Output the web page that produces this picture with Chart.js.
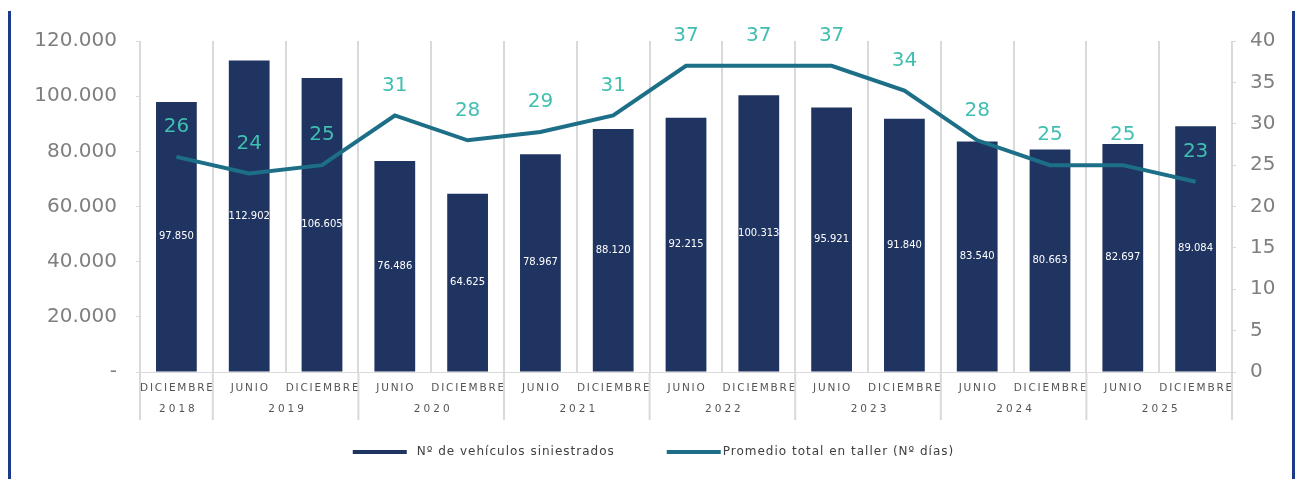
<!DOCTYPE html>
<html>
<head>
<meta charset="utf-8">
<script src="https://cdn.jsdelivr.net/npm/chart.js@4/dist/chart.umd.min.js"></script>
<style>
  html, body { margin: 0; padding: 0; background: #fff; }
  #wrap { position: relative; width: 1297px; height: 479px; }
  #frame {
    position: absolute; left: 8px; top: 11px; width: 1281px; height: 468px;
    border-left: 3px solid #1c3a8c; border-right: 3px solid #1c3a8c;
    pointer-events: none;
  }
</style>
</head>
<body>
<div id="wrap">
  <canvas id="chart" width="1297" height="479"></canvas>
  <div id="frame"></div>
</div>
<script>
// periods (month + year) shown on the x axis
const periodMonth = ["DICIEMBRE", "JUNIO", "DICIEMBRE", "JUNIO", "DICIEMBRE", "JUNIO", "DICIEMBRE",
  "JUNIO", "DICIEMBRE", "JUNIO", "DICIEMBRE", "JUNIO", "DICIEMBRE", "JUNIO", "DICIEMBRE"];
const periodYear = ["2018", "2019", "2019", "2020", "2020", "2021", "2021",
  "2022", "2022", "2023", "2023", "2024", "2024", "2025", "2025"];

// Nº de vehículos siniestrados
const vehiculos = [97850, 112902, 106605, 76486, 64625, 78967, 88120,
  92215, 100313, 95921, 91840, 83540, 80663, 82697, 89084];
// Promedio total en taller (Nº días)
const diasTaller = [26, 24, 25, 31, 28, 29, 31, 37, 37, 37, 34, 28, 25, 25, 23];

const FONT = "DejaVu Sans";
const BAR_COLOR = "#1f3461";
const LINE_COLOR = "#1d6f88";
const LABEL_TEAL = "#40bfb0";
const GRID = "#d9d9d9";

function formatMiles(v) {
  if (v === 0) return "-";
  return String(v).replace(/\B(?=(\d{3})+(?!\d))/g, ".");
}

// value labels: white inside the bars, teal above the line points
const valueLabels = {
  id: "valueLabels",
  afterDatasetsDraw(chart) {
    const ctx = chart.ctx;
    ctx.save();
    ctx.textAlign = "center";
    ctx.textBaseline = "middle";

    const barMeta = chart.getDatasetMeta(0);
    ctx.font = "10px '" + FONT + "'";
    ctx.fillStyle = "#ffffff";
    barMeta.data.forEach((bar, i) => {
      const mid = (bar.y + bar.base) / 2;
      ctx.fillText(formatMiles(vehiculos[i]), bar.x, mid);
    });

    const lineMeta = chart.getDatasetMeta(1);
    ctx.font = "20px '" + FONT + "'";
    ctx.fillStyle = LABEL_TEAL;
    lineMeta.data.forEach((pt, i) => {
      ctx.fillText(String(diasTaller[i]), pt.x, pt.y - 30);
    });
    ctx.restore();
  }
};

// two-level category axis (month / year) with year separators
const periodAxis = {
  id: "periodAxis",
  afterDraw(chart) {
    const ctx = chart.ctx;
    const xs = chart.scales.x;
    const area = chart.chartArea;
    const step = xs.getPixelForValue(1) - xs.getPixelForValue(0);
    ctx.save();
    ctx.fillStyle = "#555555";
    ctx.textAlign = "center";
    ctx.textBaseline = "middle";

    ctx.font = "10.5px '" + FONT + "'";
    ctx.letterSpacing = "1.8px";
    periodMonth.forEach((m, i) => {
      ctx.fillText(m, xs.getPixelForValue(i) + 1, area.bottom + 16);
    });

    ctx.letterSpacing = "3px";
    ctx.strokeStyle = GRID;
    ctx.lineWidth = 2;
    let start = 0;
    for (let i = 1; i <= periodYear.length; i++) {
      if (i === periodYear.length || periodYear[i] !== periodYear[start]) {
        const left = xs.getPixelForValue(start) - step / 2;
        const right = xs.getPixelForValue(i - 1) + step / 2;
        ctx.fillText(periodYear[start], (left + right) / 2 + 2, area.bottom + 37);
        ctx.beginPath();
        ctx.moveTo(left, area.bottom);
        ctx.lineTo(left, area.bottom + 48);
        if (i === periodYear.length) {
          ctx.moveTo(right, area.bottom);
          ctx.lineTo(right, area.bottom + 48);
        }
        ctx.stroke();
        start = i;
      }
    }
    ctx.restore();
  }
};

// legend drawn below the axis (Excel style: wide thin swatches)
const bottomLegend = {
  id: "bottomLegend",
  afterDraw(chart) {
    const ctx = chart.ctx;
    const items = chart.data.datasets.map((ds, i) => ({
      text: ds.label,
      color: i === 0 ? BAR_COLOR : LINE_COLOR,
      gap: i === 0 ? 10 : 2,
    }));
    ctx.save();
    ctx.font = "12px '" + FONT + "'";
    ctx.letterSpacing = "1px";
    ctx.textBaseline = "middle";
    ctx.textAlign = "left";
    const swatch = 54, spacing = 52;
    let total = 0;
    items.forEach((it, i) => {
      it.w = ctx.measureText(it.text).width;
      total += swatch + it.gap + it.w + (i ? spacing : 0);
    });
    let x = chart.width / 2 + 5 - total / 2;
    const y = chart.chartArea.bottom + 80;
    items.forEach((it) => {
      ctx.fillStyle = it.color;
      ctx.fillRect(x, y - 2, swatch, 4);
      ctx.fillStyle = "#404040";
      ctx.fillText(it.text, x + swatch + it.gap, y);
      x += swatch + it.gap + it.w + spacing;
    });
    ctx.restore();
  }
};

const ctx = document.getElementById("chart").getContext("2d");
new Chart(ctx, {
  type: "bar",
  data: {
    labels: periodMonth.map((m, i) => m + " " + periodYear[i]),
    datasets: [
      {
        label: "Nº de vehículos siniestrados",
        data: vehiculos,
        backgroundColor: BAR_COLOR,
        barPercentage: 0.56,
        categoryPercentage: 1,
        yAxisID: "y",
        order: 1,
      },
      {
        type: "line",
        label: "Promedio total en taller (Nº días)",
        data: diasTaller,
        borderColor: LINE_COLOR,
        backgroundColor: LINE_COLOR,
        borderWidth: 4,
        pointRadius: 0,
        tension: 0,
        yAxisID: "y1",
        order: 0,
      },
    ],
  },
  options: {
    responsive: false,
    animation: false,
    layout: {
      padding: { top: 41, left: 16, right: 0, bottom: 87 },
    },
    plugins: {
      tooltip: { enabled: false },
      legend: { display: false },
    },
    scales: {
      x: {
        offset: true,
        grid: { offset: true, color: GRID, lineWidth: 2, drawTicks: false },
        border: { display: true, color: GRID, width: 1 },
        ticks: { display: false },
        afterFit(scale) { scale.height = 20; },
      },
      y: {
        position: "left",
        min: 0,
        max: 120000,
        ticks: {
          stepSize: 20000,
          padding: 19,
          color: "#7f7f7f",
          font: { family: FONT, size: 20 },
          callback: (v) => formatMiles(v),
        },
        grid: { drawOnChartArea: false, tickLength: 4, color: GRID },
        border: { display: false },
        afterFit(scale) { scale.width = 124; },
      },
      y1: {
        position: "right",
        min: 0,
        max: 40,
        ticks: {
          stepSize: 5,
          padding: 14,
          color: "#7f7f7f",
          font: { family: FONT, size: 20 },
        },
        grid: { drawOnChartArea: false, tickLength: 4, color: GRID },
        border: { display: false },
        afterFit(scale) { scale.width = 65; },
      },
    },
  },
  plugins: [valueLabels, periodAxis, bottomLegend],
});
</script>
</body>
</html>
